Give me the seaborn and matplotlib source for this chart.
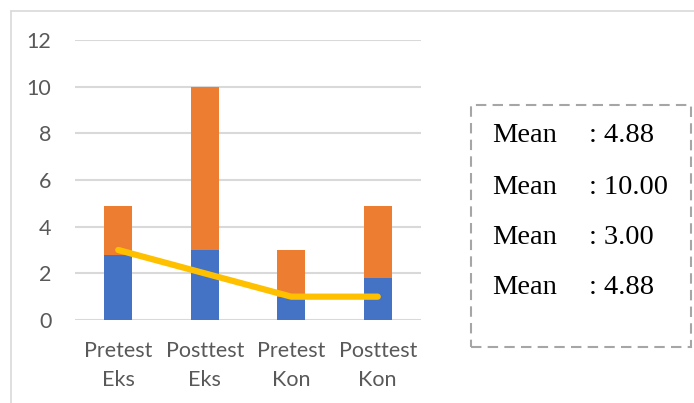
import matplotlib
matplotlib.use("Agg")
import matplotlib.pyplot as plt
from matplotlib.lines import Line2D
from matplotlib.patches import Rectangle
import seaborn as sns

# Chart data
categories = ["Pretest\nEks", "Posttest\nEks", "Pretest\nKon", "Posttest\nKon"]
blue_vals = [2.8, 3.0, 1.0, 1.8]
totals = [4.88, 10.00, 3.00, 4.88]
line_vals = [3.0, 2.0, 1.0, 1.0]
y_ticks = [0, 2, 4, 6, 8, 10, 12]

BLUE = "#4472C4"
ORANGE = "#ED7D31"
YELLOW = "#FFC000"
GRID = "#D9D9D9"
TICK = "#595959"

sns.set_theme(style="white")
plt.rcParams["font.family"] = ["Lato", "DejaVu Sans"]

W, H = 694, 403
fig = plt.figure(figsize=(W / 100, H / 100), dpi=100)
ax = fig.add_axes([75 / W, 1 - 320 / H, (421 - 75) / W, (320 - 40) / H])

# stacked columns: full height in orange, lower part in blue on top of it
sns.barplot(x=categories, y=totals, color=ORANGE, width=0.32, saturation=1,
            linewidth=0, ax=ax, zorder=3)
sns.barplot(x=categories, y=blue_vals, color=BLUE, width=0.32, saturation=1,
            linewidth=0, ax=ax, zorder=3)
sns.pointplot(x=categories, y=line_vals, color=YELLOW, markers="",
              linestyles="-", ax=ax, zorder=4)
for ln in ax.lines:
    ln.set_linewidth(4.5)
    ln.set_solid_capstyle("round")
    ln.set_solid_joinstyle("round")

ax.set_xlim(-0.5, 3.5)
ax.set_ylim(0, 12)
ax.set_yticks(y_ticks)
ax.set_yticklabels([str(t) for t in y_ticks])
ax.yaxis.grid(True, color=GRID, linewidth=1.5, zorder=0)
ax.set_axisbelow(True)
for s in ax.spines.values():
    s.set_visible(False)
ax.tick_params(axis="y", length=0, pad=17, labelsize=15.5, labelcolor=TICK)
ax.tick_params(axis="x", length=0, pad=15, labelsize=15.5, labelcolor=TICK)
for lbl in ax.get_xticklabels():
    lbl.set_linespacing(1.55)
ax.set_xlabel("")
ax.set_ylabel("")

# outer chart frame (top and left edges)
fig.add_artist(Line2D([11 / W, 1.0], [1 - 11 / H, 1 - 11 / H],
                      transform=fig.transFigure, color=GRID, lw=1.2))
fig.add_artist(Line2D([11 / W, 11 / W], [1 - 11 / H, 0.0],
                      transform=fig.transFigure, color=GRID, lw=1.2))

# dashed summary box with the means
box = Rectangle((471 / W, 1 - 347 / H), (691 - 471) / W, (347 - 105) / H,
                transform=fig.transFigure, fill=False, edgecolor="#A6A6A6",
                lw=1.5, linestyle=(0, (5, 3)))
fig.add_artist(box)
serif = ["Liberation Serif", "DejaVu Serif"]
for yc, val in zip([135, 187, 237, 288], totals):
    fig.text(492 / W, 1 - yc / H, "Mean", family=serif, fontsize=20.5,
             va="center", ha="left", color="black")
    fig.text(589 / W, 1 - yc / H, f": {val:.2f}", family=serif, fontsize=20.5,
             va="center", ha="left", color="black")

fig.savefig("out.png", dpi=100)
